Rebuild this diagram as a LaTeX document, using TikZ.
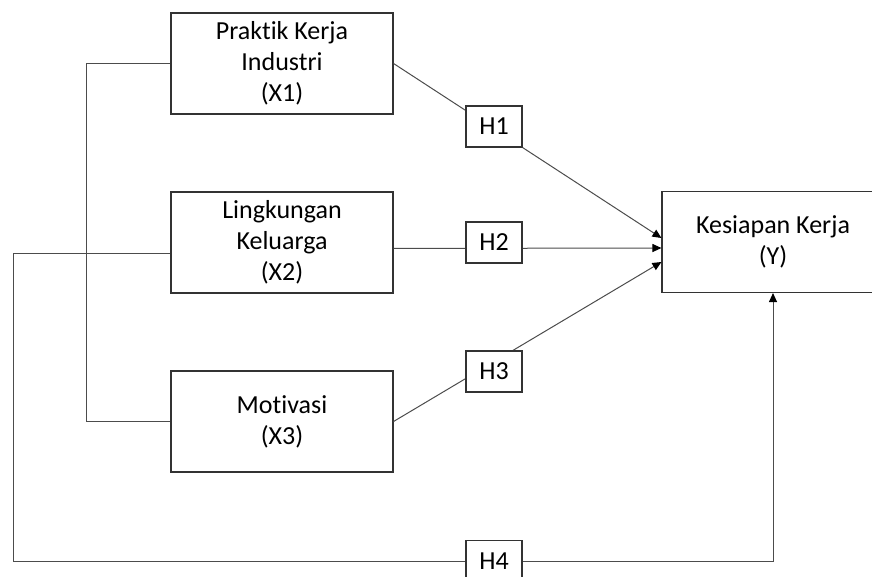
\documentclass[tikz,border=0pt]{standalone}
\usepackage{fontspec}
\setmainfont{Carlito}[Ligatures={NoCommon}]
\usepackage{tikz}
\usetikzlibrary{positioning,arrows.meta,calc}

\begin{document}
\begin{tikzpicture}[
        x=1pt, y=-1pt,
        font=\fontsize{26}{31}\selectfont,
        var/.style={
            draw=black!80,
            line width=1.1pt,
            minimum width=222pt,
            minimum height=101pt,
            align=center,
            inner sep=2pt,
            text=black
        },
        hyp/.style={
            draw=black!80,
            fill=white,
            line width=1.1pt,
            minimum width=56pt,
            minimum height=41pt,
            inner sep=1pt,
            text=black
        },
        link/.style={
            line width=1pt,
            draw=black!70
        },
        arr/.style={
            link,
            -{Triangle[length=9pt,width=8pt,color=black]}
        }
    ]
    
    \useasboundingbox (0,0) rectangle (872,577);
    \clip (0,0) rectangle (872,577);
    
    % =========================
    % Variables
    % =========================
    \node[var] (X1) at (282,63.5) {Praktik Kerja\\Industri\\(X1)};
    \node[var] (X2) at (282,242.5) {Lingkungan\\Keluarga\\(X2)};
    \node[var] (X3) at (282,421.5) {Motivasi\\(X3)};
    \node[var] (Y) at (773,242) {Kesiapan Kerja\\(Y)};
    
    \coordinate (corner) at (13,561);
    
    % =========================
    % Connectors
    % =========================
    \draw[link] (X1.west) -- ++(-84,0) |- (X3.west);
    
    \draw[arr] (X1.east) -- ([yshift=4pt]Y.west);
    \draw[arr] ([yshift=-6pt]X2.east) -- ([yshift=-6pt]Y.west);
    \draw[arr] (X3.east) -- ([yshift=-20pt]Y.west);
    
    \draw[arr] ([yshift=-11pt]X2.west) -| (corner) -| (Y.south);
    
    % =========================
    % Hypotheses
    % =========================
    \node[hyp] (H1) at (494,126.5) {H1};
    \node[hyp] (H2) at (494,242.5) {H2};
    \node[hyp] (H3) at (494,371.5) {H3};
    \node[hyp] (H4) at (494,561) {H4};
    
\end{tikzpicture}
\end{document}
